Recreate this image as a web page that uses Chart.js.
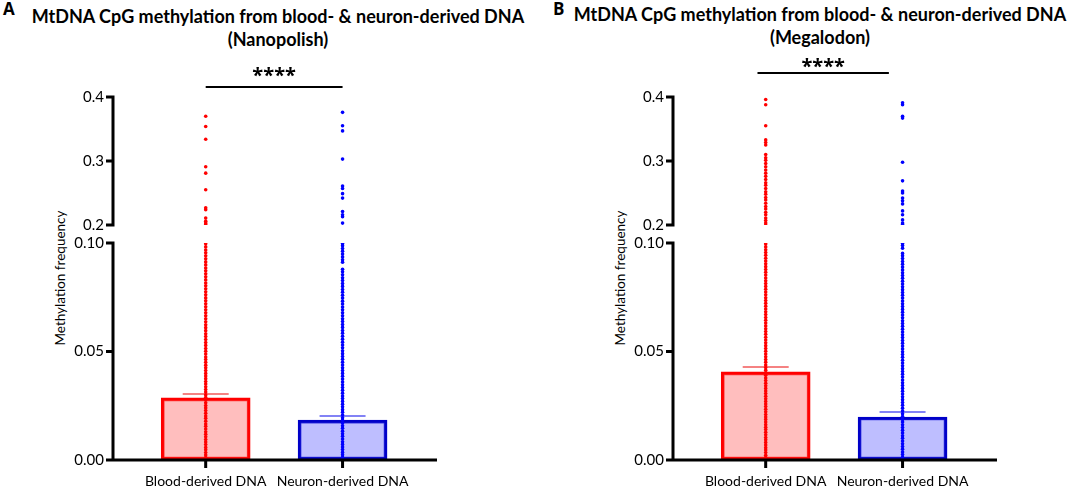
<!DOCTYPE html>
<html>
<head>
<meta charset="utf-8">
<script src="https://cdn.jsdelivr.net/npm/chart.js@4.4.1/dist/chart.umd.min.js"></script>
<style>
  body { margin: 0; width: 1084px; height: 489px; background: #fff; position: relative; overflow: hidden; font-family: Lato, sans-serif; color: #000; }
  canvas { position: absolute; }
  .title { position: absolute; font-weight: bold; font-size: 18px; line-height: 23px; text-align: center; white-space: nowrap; transform: translateX(-50%); }
  .panel { position: absolute; font-weight: bold; font-size: 17px; font-family: "Open Sans", sans-serif; }
  .ytitle { position: absolute; font-size: 13.5px; white-space: nowrap; transform: translate(-50%, -50%) rotate(-90deg); }
</style>
</head>
<body>
<div class="panel" style="left:3px;top:-3px;">A</div>
<div class="title" style="left:278px;top:5px;">MtDNA CpG methylation from blood- &amp; neuron-derived DNA<br>(Nanopolish)</div>
<div class="panel" style="left:553px;top:-3px;">B</div>
<div class="title" style="left:820px;top:3px;">MtDNA CpG methylation from blood- &amp; neuron-derived DNA<br>(Megalodon)</div>
<div class="ytitle" style="left:60px;top:278px;">Methylation frequency</div>
<div class="ytitle" style="left:620px;top:278px;">Methylation frequency</div>

<canvas id="topA" width="540" height="190" style="left:0;top:50px;"></canvas>
<canvas id="botA" width="540" height="259" style="left:0;top:230px;"></canvas>
<canvas id="topB" width="524" height="190" style="left:560px;top:50px;"></canvas>
<canvas id="botB" width="524" height="259" style="left:560px;top:230px;"></canvas>

<script>
// ---- data ----
const categories = ['Blood-derived DNA', 'Neuron-derived DNA'];

// panel A (Nanopolish)
const meanA = [0.0286, 0.0184];
const semA = [0.0018, 0.0019];
const redHighA = [0.370, 0.354, 0.334, 0.291, 0.281, 0.255, 0.227, 0.224, 0.211, 0.206, 0.203, 0.201];
const blueHighA = [0.376, 0.355, 0.347, 0.303, 0.261, 0.257, 0.249, 0.242, 0.221, 0.216, 0.213, 0.203];
const redLowA = [0.0000, 0.0011, 0.0023, 0.0034, 0.0047, 0.0058, 0.0071, 0.0083, 0.0094, 0.0107, 0.0119, 0.0130,
  0.0143, 0.0155, 0.0166, 0.0179, 0.0192, 0.0203, 0.0215, 0.0228, 0.0240, 0.0251, 0.0264, 0.0277, 0.0288,
  0.0300, 0.0313, 0.0325, 0.0337, 0.0350, 0.0362, 0.0375, 0.0387, 0.0399, 0.0412, 0.0425, 0.0437, 0.0450,
  0.0463, 0.0475, 0.0488, 0.0501, 0.0514, 0.0528, 0.0541, 0.0555, 0.0569, 0.0582, 0.0596, 0.0610, 0.0623,
  0.0637, 0.0651, 0.0665, 0.0678, 0.0692, 0.0706, 0.0720, 0.0734, 0.0747, 0.0761, 0.0775, 0.0789, 0.0803,
  0.0816, 0.0830, 0.0844, 0.0858, 0.0872, 0.0885, 0.0899, 0.0913, 0.0927, 0.0941, 0.0955, 0.0968, 0.0982, 0.0996];
const blueLowA = [0.0000, 0.0012, 0.0024, 0.0035, 0.0048, 0.0060, 0.0072, 0.0084, 0.0097, 0.0109, 0.0121, 0.0133,
  0.0146, 0.0158, 0.0170, 0.0183, 0.0195, 0.0207, 0.0220, 0.0232, 0.0245, 0.0257, 0.0270, 0.0283, 0.0295,
  0.0308, 0.0321, 0.0334, 0.0347, 0.0360, 0.0373, 0.0386, 0.0399, 0.0412, 0.0425, 0.0438, 0.0451, 0.0464,
  0.0477, 0.0490, 0.0503, 0.0517, 0.0530, 0.0543, 0.0557, 0.0570, 0.0584, 0.0597, 0.0611, 0.0624, 0.0638,
  0.0651, 0.0665, 0.0678, 0.0692, 0.0705, 0.0719, 0.0732, 0.0746, 0.0759, 0.0773, 0.0786, 0.0800, 0.0813,
  0.0827, 0.0840, 0.0854, 0.0867, 0.0879, 0.0911, 0.0923, 0.0936, 0.0949, 0.0962, 0.0975, 0.0987, 0.0997];

// panel B (Megalodon)
const meanB = [0.0406, 0.0198];
const semB = [0.0023, 0.0023];
const redHighB = [0.396, 0.388, 0.355, 0.333, 0.329, 0.325, 0.310, 0.305, 0.301, 0.296, 0.291, 0.286, 0.281,
  0.276, 0.271, 0.266, 0.262, 0.257, 0.252, 0.248, 0.243, 0.239, 0.234, 0.229, 0.225, 0.220, 0.216, 0.211,
  0.207, 0.203, 0.200];
const blueHighB = [0.391, 0.388, 0.370, 0.367, 0.298, 0.269, 0.253, 0.250, 0.242, 0.238, 0.233, 0.222, 0.216,
  0.208, 0.203, 0.201];
const redLowB = [0.0000, 0.0011, 0.0022, 0.0034, 0.0046, 0.0057, 0.0069, 0.0081, 0.0093, 0.0104, 0.0116, 0.0128,
  0.0140, 0.0151, 0.0163, 0.0175, 0.0187, 0.0198, 0.0210, 0.0222, 0.0234, 0.0246, 0.0258, 0.0270, 0.0282,
  0.0294, 0.0306, 0.0318, 0.0330, 0.0342, 0.0354, 0.0366, 0.0378, 0.0390, 0.0402, 0.0414, 0.0426, 0.0438,
  0.0451, 0.0463, 0.0476, 0.0488, 0.0501, 0.0514, 0.0527, 0.0540, 0.0553, 0.0566, 0.0579, 0.0592, 0.0605,
  0.0618, 0.0631, 0.0644, 0.0657, 0.0670, 0.0683, 0.0696, 0.0709, 0.0722, 0.0735, 0.0748, 0.0761, 0.0774,
  0.0787, 0.0800, 0.0813, 0.0826, 0.0839, 0.0852, 0.0865, 0.0878, 0.0891, 0.0904, 0.0917, 0.0930, 0.0943,
  0.0956, 0.0969, 0.0982, 0.0995];
const blueLowB = [0.0000, 0.0012, 0.0025, 0.0037, 0.0050, 0.0062, 0.0075, 0.0087, 0.0100, 0.0112, 0.0125, 0.0137,
  0.0150, 0.0162, 0.0175, 0.0187, 0.0200, 0.0213, 0.0226, 0.0239, 0.0252, 0.0265, 0.0278, 0.0291, 0.0304,
  0.0317, 0.0330, 0.0343, 0.0356, 0.0369, 0.0382, 0.0395, 0.0408, 0.0421, 0.0434, 0.0447, 0.0460, 0.0473,
  0.0486, 0.0499, 0.0512, 0.0525, 0.0538, 0.0551, 0.0564, 0.0577, 0.0590, 0.0603, 0.0616, 0.0629, 0.0642,
  0.0655, 0.0668, 0.0681, 0.0694, 0.0707, 0.0720, 0.0733, 0.0746, 0.0759, 0.0772, 0.0785, 0.0798, 0.0811,
  0.0824, 0.0837, 0.0850, 0.0863, 0.0876, 0.0889, 0.0902, 0.0915, 0.0928, 0.0941, 0.0952, 0.0976, 0.0988, 0.0998];

// significance brackets (x in category units) and label
const bracketA = [1, 2];
const bracketB = [0.94, 1.9];
const sigLabel = '****';

// y-axis break segments
const topRange = [0.2, 0.4];
const lowRange = [0, 0.1];

// ---- styles ----
const RED = '#ff0000';
const BLUE = '#0000ff';
const RED_FILL = 'rgba(255, 120, 120, 0.48)';
const BLUE_FILL = 'rgba(120, 120, 255, 0.48)';
const RED_EDGE = '#ff0000';
const BLUE_EDGE = '#0000c8';
const ERR_COLORS = ['#f25a5a', '#5a5af2'];
const X_MIN = 0.33, X_MAX = 2.69;
const FONT = 'Lato';

Chart.defaults.font.family = FONT;
Chart.defaults.color = '#000';

function pts(vals, x) {
  return vals.map(v => ({ x: x, y: v }));
}

const noGrid = { display: false, drawTicks: false };
const noBorder = { display: false };

function yAxis(range, step, digits) {
  return {
    min: range[0], max: range[1],
    afterFit: s => { s.width = 114; s.paddingTop = 0; s.paddingBottom = 0; },
    ticks: { stepSize: step, callback: v => Number(v).toFixed(digits), font: { size: 15 }, padding: 10, color: '#000' },
    grid: noGrid,
    border: noBorder
  };
}

// thick black axis lines with outward ticks, placed by the chart's scales
const axesPlugin = {
  id: 'axes',
  afterDatasetsDraw(chart, args, opts) {
    const { ctx, chartArea } = chart;
    const ys = chart.scales.y, xs = chart.scales.x;
    const ax = chartArea.left - 1;
    ctx.save();
    ctx.strokeStyle = '#000';
    ctx.lineWidth = 3;
    ctx.lineCap = 'butt';
    ctx.beginPath();
    ctx.moveTo(ax, ys.getPixelForValue(ys.max) - 1.5);
    ctx.lineTo(ax, opts.xAxis ? chartArea.bottom + 1.5 : ys.getPixelForValue(ys.min) + 1.5);
    ys.ticks.forEach(t => {
      const y = ys.getPixelForValue(t.value);
      ctx.moveTo(ax - 7, y);
      ctx.lineTo(ax + 1.5, y);
    });
    if (opts.xAxis) {
      const by = chartArea.bottom;
      ctx.moveTo(ax, by);
      ctx.lineTo(chartArea.right, by);
      xs.ticks.forEach(t => {
        const x = xs.getPixelForValue(t.value);
        ctx.moveTo(x, by);
        ctx.lineTo(x, by + 8);
      });
    }
    ctx.stroke();
    ctx.restore();
  }
};

const bracketPlugin = {
  id: 'bracket',
  afterDraw(chart, args, opts) {
    const { ctx, chartArea } = chart;
    const xs = chart.scales.x;
    const x1 = xs.getPixelForValue(opts.span[0]);
    const x2 = xs.getPixelForValue(opts.span[1]);
    const y = chartArea.top - opts.lift;
    ctx.save();
    ctx.strokeStyle = '#000';
    ctx.lineWidth = 2;
    ctx.beginPath();
    ctx.moveTo(x1, y);
    ctx.lineTo(x2, y);
    ctx.stroke();
    ctx.fillStyle = '#000';
    ctx.font = 'bold 20px "Open Sans"';
    ctx.textAlign = 'center';
    ctx.textBaseline = 'alphabetic';
    ctx.fillText(sigLabel, (x1 + x2) / 2, y - opts.gap);
    ctx.restore();
  }
};

const errorPlugin = {
  id: 'errbars',
  beforeDatasetsDraw(chart, args, opts) {
    const { ctx } = chart;
    const xs = chart.scales.x, ys = chart.scales.y;
    opts.means.forEach((m, i) => {
      const x = xs.getPixelForValue(i + 1);
      const y0 = ys.getPixelForValue(m);
      const y1 = ys.getPixelForValue(m + opts.sems[i]);
      ctx.save();
      ctx.strokeStyle = ERR_COLORS[i];
      ctx.lineWidth = 1.5;
      ctx.beginPath();
      ctx.moveTo(x, y0);
      ctx.lineTo(x, y1);
      ctx.moveTo(x - 23, y1);
      ctx.lineTo(x + 23, y1);
      ctx.stroke();
      ctx.restore();
    });
  }
};

function dotSet(vals, x, color) {
  return { type: 'scatter', data: pts(vals, x), backgroundColor: color, borderWidth: 0, pointRadius: 1.8, pointHoverRadius: 1.8, order: 1 };
}

function topChart(id, redHigh, blueHigh, span, lift, gap, rightPad) {
  return new Chart(document.getElementById(id), {
    type: 'scatter',
    data: { datasets: [dotSet(redHigh, 1, RED), dotSet(blueHigh, 2, BLUE)] },
    options: {
      responsive: false, animation: false,
      layout: { padding: { top: 47, bottom: 15, left: 0, right: rightPad } },
      plugins: {
        legend: { display: false }, tooltip: { enabled: false },
        bracket: { span: span, lift: lift, gap: gap }, axes: { xAxis: false }
      },
      scales: {
        x: { type: 'linear', min: X_MIN, max: X_MAX, display: false, offset: false },
        y: yAxis(topRange, 0.1, 1)
      }
    },
    plugins: [axesPlugin, bracketPlugin]
  });
}

function lowChart(id, means, sems, redLow, blueLow, rightPad) {
  return new Chart(document.getElementById(id), {
    type: 'bar',
    data: {
      datasets: [
        {
          type: 'bar',
          data: means.map((m, i) => ({ x: i + 1, y: m })),
          backgroundColor: [RED_FILL, BLUE_FILL],
          borderColor: [RED_EDGE, BLUE_EDGE],
          borderWidth: 3,
          borderSkipped: false,
          barThickness: 89,
          order: 3
        },
        dotSet(redLow, 1, RED),
        dotSet(blueLow, 2, BLUE)
      ]
    },
    options: {
      responsive: false, animation: false,
      layout: { padding: { top: 13, bottom: 0, left: 0, right: rightPad } },
      plugins: {
        legend: { display: false }, tooltip: { enabled: false },
        errbars: { means: means, sems: sems }, axes: { xAxis: true }
      },
      scales: {
        x: {
          type: 'linear', min: X_MIN, max: X_MAX, offset: false,
          afterBuildTicks: s => { s.ticks = [{ value: 1 }, { value: 2 }]; },
          afterFit: s => { s.height = 29; s.paddingLeft = 0; s.paddingRight = 0; },
          ticks: { callback: v => categories[v - 1], font: { size: 14 }, padding: 13, color: '#000', maxRotation: 0, autoSkip: false },
          grid: noGrid,
          border: noBorder
        },
        y: yAxis(lowRange, 0.05, 2)
      }
    },
    plugins: [errorPlugin, axesPlugin]
  });
}

topChart('topA', redHighA, blueHighA, bracketA, 10, 5, 103);
lowChart('botA', meanA, semA, redLowA, blueLowA, 103);
topChart('topB', redHighB, blueHighB, bracketB, 24, 0, 87);
lowChart('botB', meanB, semB, redLowB, blueLowB, 87);
</script>
</body>
</html>
